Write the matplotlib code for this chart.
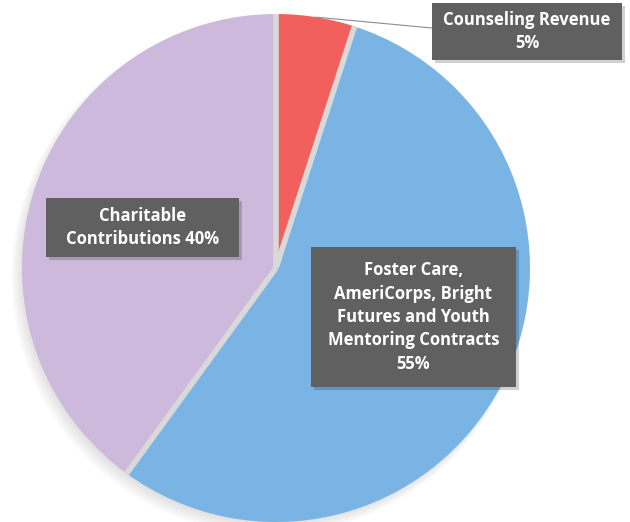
import matplotlib.pyplot as plt
from matplotlib.patches import Circle, Rectangle
import numpy as np

# revenue shares (percent), clockwise from 12 o'clock
labels = ['Counseling Revenue\n5%',
          'Foster Care,\nAmeriCorps, Bright\nFutures and Youth\nMentoring Contracts\n55%',
          'Charitable\nContributions 40%']
shares = [5, 55, 40]
colors = ['#F2605E', '#7AB4E4', '#CDB9DB']

fig = plt.figure(figsize=(6.3, 5.22), dpi=100)
ax = fig.add_axes([0, 0, 1, 1])

cx, cy, r = 276, 254, 254

# soft shadow under the pie, toward bottom-left
for i in range(10):
    ax.add_patch(Circle((cx - 2 - i * 0.5, cy - 3 - i * 0.6), r - 2 + i * 0.7,
                        color='black', alpha=0.010, lw=0, zorder=0))

wedges, _ = ax.pie(shares, colors=colors, startangle=90, counterclock=False,
                   center=(cx, cy), radius=r, wedgeprops=dict(linewidth=0))

# gray separators between slices
bounds = 90 - 360 * np.cumsum([0] + shares[:-1]) / 100
for b in np.deg2rad(bounds):
    ax.plot([cx, cx + r * np.cos(b)], [cy, cy + r * np.sin(b)],
            color='#D9D9D9', lw=4, solid_capstyle='butt', zorder=3)

ax.set_xlim(0, 630)
ax.set_ylim(0, 522)
ax.set_aspect('equal')
ax.axis('off')

# leader line for the small slice
a = np.deg2rad(90 - 360 * shares[0] / 200)
ax.plot([cx + r * np.cos(a), 432], [cy + r * np.sin(a), 494],
        color='#8C8C8C', lw=0.8, zorder=4)

# label boxes: centre x, centre y, width, height
boxes = [(527, 490.5, 190, 57), (413.5, 205, 205, 140), (142.5, 294.5, 193, 59)]
for lab, (bx, by, bw, bh) in zip(labels, boxes):
    ax.add_patch(Rectangle((bx - bw / 2 + 2.5, by - bh / 2 - 2.5), bw, bh,
                           fc='black', alpha=0.18, lw=0, zorder=5))
    ax.add_patch(Rectangle((bx - bw / 2, by - bh / 2), bw, bh,
                           fc='#606060', lw=0, zorder=6))
    ax.text(bx, by, lab, color='white', fontsize=12, fontweight='bold',
            family='Open Sans', ha='center', va='center', linespacing=1.38,
            zorder=7)

fig.savefig('out.png', dpi=100)
